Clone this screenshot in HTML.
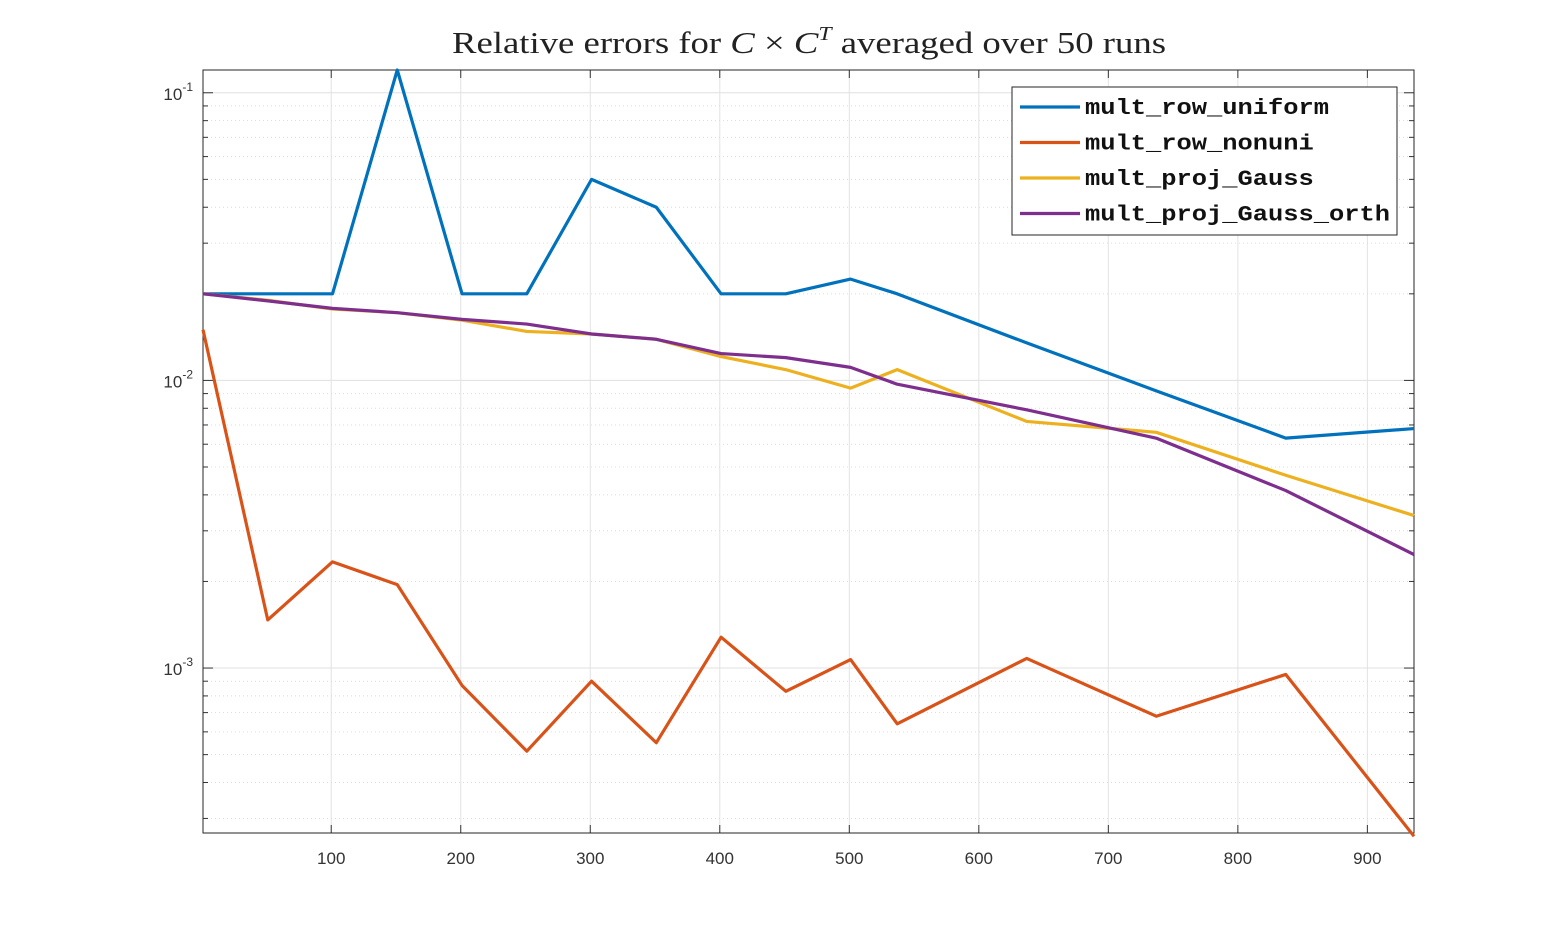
<!DOCTYPE html>
<html><head><meta charset="utf-8"><style>
body{margin:0;background:#fff;}
svg text{font-family:"Liberation Sans",sans-serif;}
</style></head><body>
<svg id="chart" width="1563" height="938" xmlns="http://www.w3.org/2000/svg">
<rect width="1563" height="938" fill="#fff"/>
<text x="452" y="53" font-size="31" fill="#222" textLength="714" lengthAdjust="spacingAndGlyphs" style="font-family:'Liberation Serif',serif">Relative errors for <tspan font-style="italic">C</tspan> × <tspan font-style="italic">C</tspan><tspan font-style="italic" font-size="20" dy="-13">T</tspan><tspan dy="13"> averaged over 50 runs</tspan></text>
<g id="grid"></g><g id="axes"></g><g id="series"></g><g id="legend"></g>
</svg>
<script>
const xVals=[1,51,101,151,201,251,301,351,401,451,501,537,637,737,837,936];
const seriesNames=["mult_row_uniform","mult_row_nonuni","mult_proj_Gauss","mult_proj_Gauss_orth"];
const seriesColors=["#0072BD","#D95319","#EDB120","#7E2F8E"];
const blueVals=[0.02,0.02,0.02,0.12,0.02,0.02,0.05,0.04,0.02,0.02,0.0225,0.02,0.0135,0.0092,0.0063,0.0068];
const orangeVals=[0.015,0.00147,0.00234,0.00195,0.00087,0.000514,0.0009,0.00055,0.00128,0.00083,0.00107,0.00064,0.00108,0.00068,0.00095,0.00026];
const yellowVals=[0.02,0.019,0.0177,0.0172,0.0162,0.0148,0.0145,0.0139,0.0121,0.0109,0.0094,0.0109,0.0072,0.0066,0.00468,0.00339];
const purpleVals=[0.02,0.0189,0.0178,0.0172,0.0163,0.0157,0.0145,0.0139,0.0124,0.012,0.0111,0.0097,0.0079,0.0063,0.00414,0.00248];
const xTicks=[100,200,300,400,500,600,700,800,900];
const yDecades=[-1,-2,-3];
const X0=203,X1=1414,Y0=70,Y1=833;
const xMin=1,xMax=936,lyMax=Math.log10(0.12),lyMin=Math.log10(0.000267);
const xs=v=>X0+(v-xMin)/(xMax-xMin)*(X1-X0);
const ys=v=>Y0+(lyMax-Math.log10(v))/(lyMax-lyMin)*(Y1-Y0);
const NS="http://www.w3.org/2000/svg";
function mk(tag,parent,attrs){const e=document.createElementNS(NS,tag);for(const k in attrs)e.setAttribute(k,attrs[k]);parent.appendChild(e);return e;}
const grid=document.getElementById('grid'),axes=document.getElementById('axes'),ser=document.getElementById('series'),leg=document.getElementById('legend');
mk('rect',grid,{x:X0,y:Y0,width:X1-X0,height:Y1-Y0,fill:'#fff'});
xTicks.forEach(t=>{const x=xs(t);
 const l=mk('line',grid,{x1:x,x2:x,y1:Y0,y2:Y1,stroke:'#e3e3e3','stroke-width':1});
 
 mk('line',axes,{x1:x,x2:x,y1:Y1,y2:Y1-8,stroke:'#333'});mk('line',axes,{x1:x,x2:x,y1:Y0,y2:Y0+8,stroke:'#333'});
 const tx=mk('text',axes,{x:x,y:Y1+31,'text-anchor':'middle','font-size':17,fill:'#333'});tx.textContent=t;
 });
[-1,-2,-3,-4].forEach(d=>{for(let m=1;m<10;m++){const v=m*Math.pow(10,d);if(v>0.12||v<0.000267)continue;const y=ys(v);
 if(m===1){const l=mk('line',grid,{x1:X0,x2:X1,y1:y,y2:y,stroke:'#e0e0e0'});
  mk('line',axes,{x1:X0,x2:X0+10,y1:y,y2:y,stroke:'#333'});mk('line',axes,{x1:X1,x2:X1-10,y1:y,y2:y,stroke:'#333'});}
 else{const l=mk('line',grid,{x1:X0,x2:X1,y1:y,y2:y,stroke:'#dcdcdc','stroke-dasharray':'1,3'});
  mk('line',axes,{x1:X0,x2:X0+5,y1:y,y2:y,stroke:'#333'});mk('line',axes,{x1:X1,x2:X1-5,y1:y,y2:y,stroke:'#333'});}}});
yDecades.forEach(d=>{const y=ys(Math.pow(10,d));
 const t=mk('text',axes,{x:X0-10,y:y+7,'text-anchor':'end','font-size':17,fill:'#333'});
 t.innerHTML='10<tspan font-size="12" dy="-9">'+d+'</tspan>';
 });
mk('rect',axes,{x:X0,y:Y0,width:X1-X0,height:Y1-Y0,fill:'none',stroke:'#262626','stroke-width':1});
[blueVals,orangeVals,yellowVals,purpleVals].forEach((vals,i)=>{
 const p=mk('polyline',ser,{points:vals.map((v,j)=>xs(xVals[j])+','+ys(v)).join(' '),fill:'none',stroke:seriesColors[i],'stroke-width':3.2,'stroke-linejoin':'round'});
 });
const lb=mk('rect',leg,{x:1012,y:87,width:385,height:148,fill:'#fff',stroke:'#262626'});

seriesNames.forEach((n,i)=>{const y=107+i*35.5;
 mk('line',leg,{x1:1020,x2:1080,y1:y,y2:y,stroke:seriesColors[i],'stroke-width':3.2});
 const t=mk('text',leg,{x:1085,y:y+7,'font-size':22,'font-weight':'bold',fill:'#111',textLength:(n.length*15.25).toFixed(1),lengthAdjust:'spacingAndGlyphs',style:"font-family:'Liberation Mono',monospace"});t.textContent=n;
 });
</script>
</body></html>
